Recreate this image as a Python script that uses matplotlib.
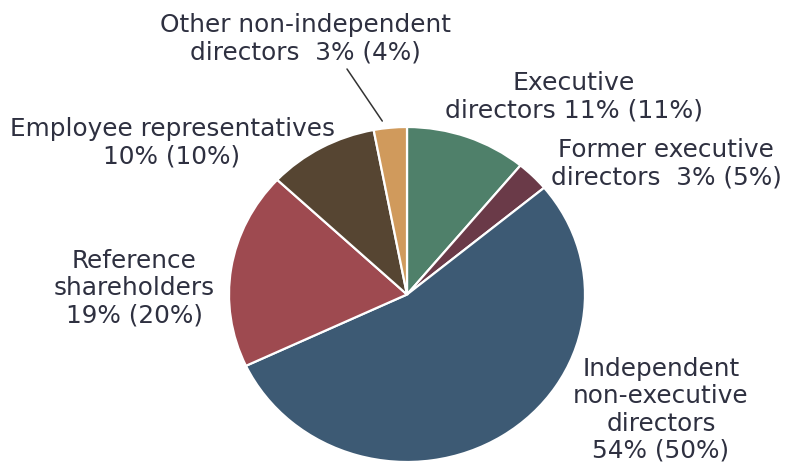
import matplotlib
matplotlib.use("Agg")
import matplotlib.pyplot as plt
import numpy as np

categories = [
    "Executive directors",
    "Former executive directors",
    "Independent non-executive directors",
    "Reference shareholders",
    "Employee representatives",
    "Other non-independent directors",
]
shares = [11, 3, 54, 19, 10, 3]
previous = [11, 5, 50, 20, 10, 4]
colors = ["#4F806A", "#6A3A48", "#3D5A74", "#9E4A50", "#564532", "#D09A5C"]

label_texts = [
    "Executive\ndirectors {0}% ({1}%)",
    "Former executive\ndirectors  {0}% ({1}%)",
    "Independent\nnon-executive\ndirectors\n{0}% ({1}%)",
    "Reference\nshareholders\n{0}% ({1}%)",
    "Employee representatives\n{0}% ({1}%)",
    "Other non-independent\ndirectors  {0}% ({1}%)",
]

W, H = 792, 464
fig = plt.figure(figsize=(W / 100, H / 100), dpi=100)
fig.patch.set_facecolor("white")

# pie occupies a slightly wide ellipse
ax = fig.add_axes([229 / W, 1 / H, 356 / W, 335 / H])
wedges, _ = ax.pie(
    shares,
    colors=colors,
    startangle=90,
    counterclock=False,
    wedgeprops=dict(edgecolor="white", linewidth=1.6),
)
ax.set_aspect("auto")
ax.set_xlim(-1, 1)
ax.set_ylim(-1, 1)
ax.axis("off")

text_color = "#2E3040"
# label centres in pixel coordinates (x, y from top) and font sizes
label_pos = [
    (574, 97),
    (666, 164),
    (661, 410),
    (134, 288),
    (172, 143),
    (305, 39),
]
label_size = [18.1, 17.8, 17.8, 17.8, 17.8, 17.8]
for tmpl, s, p, (px, py), fs in zip(label_texts, shares, previous,
                                    label_pos, label_size):
    fig.text(px / W, 1 - py / H, tmpl.format(s, p), ha="center", va="center",
             fontsize=fs, color=text_color, family="DejaVu Sans",
             linespacing=1.17)

# leader line to the small "Other" slice
i = len(shares) - 1
theta = np.deg2rad(90 - 360 * (sum(shares[:i]) + shares[i] / 2) / sum(shares))
ax.annotate("", xy=(1.05 * np.cos(theta) - 0.04, 1.04 * np.sin(theta)),
            xytext=(347 / W, 1 - 70 / H), textcoords="figure fraction",
            annotation_clip=False,
            arrowprops=dict(arrowstyle="-", color="#333333", lw=1.1,
                            shrinkA=0, shrinkB=0))

fig.savefig("out.png", dpi=100, facecolor="white")
